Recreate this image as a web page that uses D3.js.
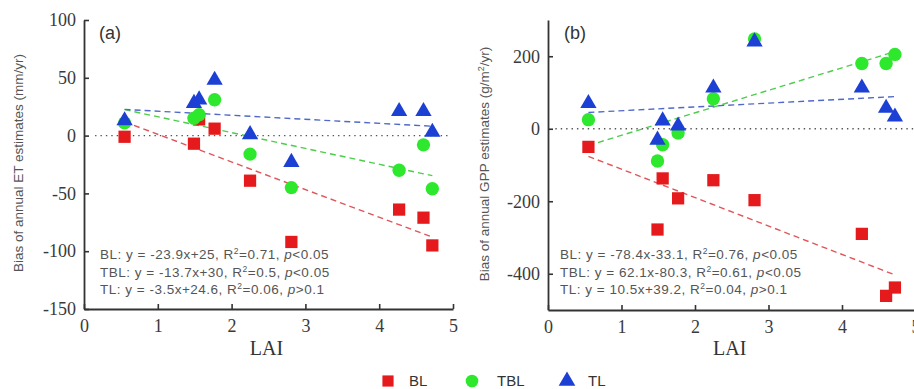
<!DOCTYPE html>
<html>
<head>
<meta charset="utf-8">
<script src="https://cdn.jsdelivr.net/npm/d3@7/dist/d3.min.js"></script>
<style>
  html, body { margin: 0; padding: 0; background: #fff; }
  svg { display: block; }
</style>
</head>
<body>
<svg id="chart" width="914" height="389"></svg>
<script>
// Leaf area index of the nine sites (shared x values)
const lai = [0.55, 1.49, 1.56, 1.77, 2.25, 2.81, 4.27, 4.6, 4.72];

// Panel (a): bias of annual ET estimates (mm/yr)
const etBL  = [-1, -7, 14, 6, -39, -92, -64, -71, -95];
const etTBL = [11, 15, 18, 31, -16, -45, -30, -8, -46];
const etTL  = [13, 28, 31, 48, 1, -23, 21, 21, 3];

// Panel (b): bias of annual GPP estimates (g/m2/yr)
const gppBL  = [-50, -278, -137, -192, -142, -197, -290, -461, -438];
const gppTBL = [25, -89, -44, -12, 83, 248, 180, 180, 205];
const gppTL  = [70, -31, 22, 8, 113, 240, 113, 57, 33];

// Linear fits: slope, intercept, R2, p statement
const seriesNames = ["BL", "TBL", "TL"];
const etSlope = [-23.9, -13.7, -3.5];
const etIntercept = [25, 30, 24.6];
const etR2 = ["0.71", "0.5", "0.06"];
const etP = ["<0.05", "<0.05", ">0.1"];
const gppSlope = [-78.4, 62.1, 10.5];
const gppIntercept = [-33.1, -80.3, 39.2];
const gppR2 = ["0.76", "0.61", "0.04"];
const gppP = ["<0.05", "<0.05", ">0.1"];

// Tick labels
const xTicks = [0, 1, 2, 3, 4, 5];
const etTicks = [-150, -100, -50, 0, 50, 100];
const gppTicks = [-400, -200, 0, 200];

const colors = { BL: "#e41a1c", TBL: "#2ee82e", TL: "#1c3fd4" };
const lineColors = { BL: "#e0555a", TBL: "#4ccd4c", TL: "#5069c8" };
const symbols = { BL: d3.symbolSquare, TBL: d3.symbolCircle, TL: d3.symbolTriangle };
const symSize = { BL: 150, TBL: 140, TL: 115 };

const svg = d3.select("#chart");
const serif = "'Liberation Serif', 'Times New Roman', serif";
const sans = "'Liberation Sans', Arial, sans-serif";

function fmtInt(v) { return String(v); }

function drawPanel(cfg) {
  const x = d3.scaleLinear().domain([0, 5]).range(cfg.xRange);
  const y = d3.scaleLinear().domain(cfg.yDomain).range(cfg.yRange);
  const g = svg.append("g");

  // zero reference line
  g.append("line")
    .attr("x1", x(cfg.zeroFrom)).attr("x2", x(cfg.zeroTo))
    .attr("y1", y(0)).attr("y2", y(0))
    .attr("stroke", "#555").attr("stroke-width", 1.4)
    .attr("stroke-dasharray", "1.4,4");

  // axes (ticks point inward)
  const xAxis = g.append("g")
    .attr("transform", `translate(0,${cfg.yRange[0]})`)
    .call(d3.axisBottom(x).tickValues(xTicks).tickSize(-5).tickSizeOuter(0).tickPadding(10).tickFormat(fmtInt));
  const yAxis = g.append("g")
    .attr("transform", `translate(${cfg.xRange[0]},0)`)
    .call(d3.axisLeft(y).tickValues(cfg.yTicks).tickSize(-5).tickSizeOuter(0).tickPadding(8).tickFormat(fmtInt));
  [xAxis, yAxis].forEach(a => {
    a.attr("font-family", null).attr("font-size", null);
    a.select(".domain").attr("stroke", "#333").attr("stroke-width", 1.8);
    a.selectAll(".tick line").attr("stroke", "#333").attr("stroke-width", 1.6);
    a.selectAll(".tick text")
      .style("font-family", serif)
      .style("font-size", "18px").attr("fill", "#3a3a3a");
  });

  // fitted regression lines
  const xMin = d3.min(lai), xMax = d3.max(lai);
  seriesNames.forEach((name, i) => {
    const f = v => cfg.slope[i] * v + cfg.intercept[i];
    g.append("line")
      .attr("x1", x(xMin)).attr("y1", y(f(xMin)))
      .attr("x2", x(xMax)).attr("y2", y(f(xMax)))
      .attr("stroke", lineColors[name]).attr("stroke-width", 1.4)
      .attr("stroke-dasharray", "6,4");
  });

  // markers
  seriesNames.forEach((name, i) => {
    const vals = cfg.values[i];
    g.append("g").selectAll("path")
      .data(vals.map((v, k) => [lai[k], v]))
      .join("path")
      .attr("d", d3.symbol(symbols[name], symSize[name]))
      .attr("transform", d => `translate(${x(d[0])},${y(d[1])})`)
      .attr("fill", colors[name]);
  });

  // panel letter
  g.append("text")
    .attr("x", cfg.letterPos[0]).attr("y", cfg.letterPos[1])
    .style("font-family", sans)
    .style("font-size", "18px").attr("fill", "#333")
    .text(cfg.letter);

  // equations
  seriesNames.forEach((name, i) => {
    const s = cfg.slope[i];
    const b = cfg.intercept[i];
    const t = g.append("text")
      .attr("x", cfg.eqPos[0]).attr("y", cfg.eqPos[1] + i * 17.5)
      .style("font-family", sans)
      .style("font-size", "13.5px").attr("letter-spacing", 0.5).attr("fill", "#555");
    t.append("tspan").text(`${name}: y = ${s}x${b < 0 ? "" : "+"}${b}, R`);
    t.append("tspan").style("font-size", "8.5px").attr("dy", -5).text("2");
    t.append("tspan").attr("dy", 5).text(`=${cfg.r2[i]}, `);
    t.append("tspan").attr("font-style", "italic").text("p");
    t.append("tspan").text(cfg.p[i]);
  });

  // axis titles
  g.append("text")
    .attr("x", (cfg.xRange[0] + x(5)) / 2 - 2).attr("y", 355)
    .attr("text-anchor", "middle")
    .style("font-family", serif)
    .style("font-size", "20px").attr("fill", "#333")
    .text("LAI");

  const yt = g.append("text")
    .attr("transform", `translate(${cfg.yTitlePos[0]},${cfg.yTitlePos[1]}) rotate(-90)`)
    .attr("text-anchor", "middle")
    .style("font-family", sans)
    .style("font-size", "13.5px").attr("fill", "#555");
  cfg.yTitle(yt);
}

drawPanel({
  xRange: [84, 453], yDomain: [-150, 100], yRange: [309, 20],
  yTicks: etTicks,
  zeroFrom: 0.15, zeroTo: 4.95,
  slope: etSlope, intercept: etIntercept, r2: etR2, p: etP,
  values: [etBL, etTBL, etTL],
  letter: "(a)", letterPos: [99, 39],
  eqPos: [100, 259],
  yTitlePos: [23, 163],
  yTitle: t => t.text("Bias of annual ET estimates (mm/yr)")
});

drawPanel({
  xRange: [548, 915.5], yDomain: [-500, 300], yRange: [310, 20],
  yTicks: gppTicks,
  zeroFrom: 0.1, zeroTo: 5,
  slope: gppSlope, intercept: gppIntercept, r2: gppR2, p: gppP,
  values: [gppBL, gppTBL, gppTL],
  letter: "(b)", letterPos: [564, 39],
  eqPos: [560, 259],
  yTitlePos: [489, 164],
  yTitle: t => {
    t.append("tspan").text("Bias of annual GPP estimates (g/m");
    t.append("tspan").style("font-size", "9px").attr("dy", -5).text("2");
    t.append("tspan").attr("dy", 5).text("/yr)");
  }
});

// legend
const legendItems = [
  { name: "BL", sx: 388, tx: 409 },
  { name: "TBL", sx: 472, tx: 497 },
  { name: "TL", sx: 567, tx: 588 }
];
const lg = svg.append("g");
legendItems.forEach(it => {
  lg.append("path")
    .attr("d", d3.symbol(symbols[it.name], it.name === "TL" ? 120 : 125))
    .attr("transform", `translate(${it.sx},381)`)
    .attr("fill", colors[it.name]);
  lg.append("text")
    .attr("x", it.tx).attr("y", 386)
    .style("font-family", sans)
    .style("font-size", "15px").attr("fill", "#333")
    .text(it.name);
});
</script>
</body>
</html>
